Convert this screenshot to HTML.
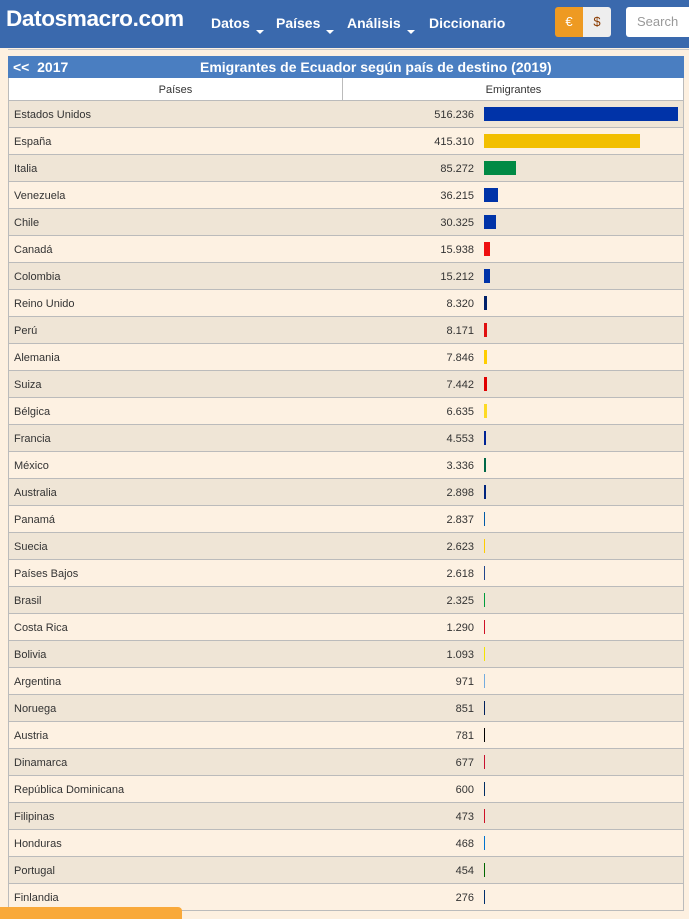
<!DOCTYPE html>
<html><head><meta charset="utf-8"><style>
*{margin:0;padding:0;box-sizing:border-box}
body{width:689px;height:916px;overflow:hidden;background:#fdf0e0;font-family:"Liberation Sans",Arial,sans-serif;position:relative}
.hdr{position:absolute;left:0;top:0;width:689px;height:48px;background:#3a69ad;color:#fff}
.logo{position:absolute;left:6px;top:6px;font-size:22.6px;font-weight:bold;letter-spacing:-0.4px}
.nav{position:absolute;top:15px;font-size:14px;font-weight:bold}
.car{display:inline-block;width:0;height:0;border-left:4px solid transparent;border-right:4px solid transparent;border-top:4px solid #fff;margin-left:6px;vertical-align:-6px}
.eur{position:absolute;left:555px;top:7px;width:28px;height:30px;background:#ee9a22;border-radius:3px 0 0 3px;color:#fff;font-size:13px;text-align:center;line-height:30px}
.usd{position:absolute;left:583px;top:7px;width:28px;height:30px;background:#eee;border-radius:0 3px 3px 0;color:#8a3b00;font-size:13px;text-align:center;line-height:30px}
.srch{position:absolute;left:626px;top:7px;width:70px;height:30px;background:#fff;border-radius:3px;color:#999;font-size:13px;line-height:30px;padding-left:11px}
.line{position:absolute;left:8px;top:49px;width:681px;height:1px;background:#c8c8c8}
.title{position:absolute;left:8px;top:56px;width:676px;height:22px;background:#4a7ec1;color:#fff;font-size:14px;font-weight:bold;line-height:22px}
.tbl{position:absolute;left:8px;top:78px;width:676px;border-left:1px solid #bbb;border-right:1px solid #bbb}
.hrow{height:23px;background:#fff;border-bottom:1px solid #bbb;font-size:11px;color:#333;position:relative}
.hrow div{position:absolute;top:0;line-height:24px;text-align:center}
.row{height:27px;border-bottom:1px solid #bbb;position:relative;font-size:11px;color:#333}
.row:nth-child(odd){background:#efe5d6}
.row:nth-child(even){background:#fdf1e2}
.n{position:absolute;left:5px;top:0;line-height:29px}
.v{position:absolute;right:209px;top:0;line-height:29px}
.b{position:absolute;left:475px;top:6px;height:14px}
.sep{position:absolute;left:333px;top:0;width:1px;height:23px;background:#bbb}
.or{position:absolute;left:0;top:907px;width:182px;height:12px;background:#f9a93a;border-radius:0 4px 0 0}
</style></head><body>
<div class="hdr">
<div class="logo">Datosmacro.com</div>
<div class="nav" style="left:211px">Datos<span class="car"></span></div>
<div class="nav" style="left:276px">Países<span class="car"></span></div>
<div class="nav" style="left:347px">Análisis<span class="car"></span></div>
<div class="nav" style="left:429px">Diccionario</div>
<div class="eur">€</div><div class="usd">$</div>
<div class="srch">Search</div>
</div>
<div class="line"></div>
<div class="title"><span style="position:absolute;left:5px">&lt;&lt;&nbsp; 2017</span><span style="position:absolute;left:192px">Emigrantes de Ecuador según país de destino (2019)</span></div>
<div class="tbl">
<div class="hrow"><div style="left:0;width:333px">Países</div><div class="sep"></div><div style="left:334px;width:341px">Emigrantes</div></div>
<div id="rows">
<div class="row"><span class="n">Estados Unidos</span><span class="v">516.236</span><span class="b" style="width:194px;background:#0033a8"></span></div>
<div class="row"><span class="n">España</span><span class="v">415.310</span><span class="b" style="width:156px;background:#f2bf00"></span></div>
<div class="row"><span class="n">Italia</span><span class="v">85.272</span><span class="b" style="width:32px;background:#008a45"></span></div>
<div class="row"><span class="n">Venezuela</span><span class="v">36.215</span><span class="b" style="width:14px;background:#0033a8"></span></div>
<div class="row"><span class="n">Chile</span><span class="v">30.325</span><span class="b" style="width:12px;background:#0033a8"></span></div>
<div class="row"><span class="n">Canadá</span><span class="v">15.938</span><span class="b" style="width:6px;background:#ee1111"></span></div>
<div class="row"><span class="n">Colombia</span><span class="v">15.212</span><span class="b" style="width:6px;background:#0033a8"></span></div>
<div class="row"><span class="n">Reino Unido</span><span class="v">8.320</span><span class="b" style="width:3px;background:#012169"></span></div>
<div class="row"><span class="n">Perú</span><span class="v">8.171</span><span class="b" style="width:3px;background:#e01010"></span></div>
<div class="row"><span class="n">Alemania</span><span class="v">7.846</span><span class="b" style="width:3px;background:#ffce00"></span></div>
<div class="row"><span class="n">Suiza</span><span class="v">7.442</span><span class="b" style="width:3px;background:#e00000"></span></div>
<div class="row"><span class="n">Bélgica</span><span class="v">6.635</span><span class="b" style="width:3px;background:#fdda24"></span></div>
<div class="row"><span class="n">Francia</span><span class="v">4.553</span><span class="b" style="width:2px;background:#002395"></span></div>
<div class="row"><span class="n">México</span><span class="v">3.336</span><span class="b" style="width:2px;background:#006847"></span></div>
<div class="row"><span class="n">Australia</span><span class="v">2.898</span><span class="b" style="width:2px;background:#00247d"></span></div>
<div class="row"><span class="n">Panamá</span><span class="v">2.837</span><span class="b" style="width:1px;background:#005aa7"></span></div>
<div class="row"><span class="n">Suecia</span><span class="v">2.623</span><span class="b" style="width:1px;background:#fecc00"></span></div>
<div class="row"><span class="n">Países Bajos</span><span class="v">2.618</span><span class="b" style="width:1px;background:#21468b"></span></div>
<div class="row"><span class="n">Brasil</span><span class="v">2.325</span><span class="b" style="width:1px;background:#009c3b"></span></div>
<div class="row"><span class="n">Costa Rica</span><span class="v">1.290</span><span class="b" style="width:1px;background:#ce1126"></span></div>
<div class="row"><span class="n">Bolivia</span><span class="v">1.093</span><span class="b" style="width:1px;background:#f4e400"></span></div>
<div class="row"><span class="n">Argentina</span><span class="v">971</span><span class="b" style="width:1px;background:#74acdf"></span></div>
<div class="row"><span class="n">Noruega</span><span class="v">851</span><span class="b" style="width:1px;background:#00205b"></span></div>
<div class="row"><span class="n">Austria</span><span class="v">781</span><span class="b" style="width:1px;background:#000"></span></div>
<div class="row"><span class="n">Dinamarca</span><span class="v">677</span><span class="b" style="width:1px;background:#c8102e"></span></div>
<div class="row"><span class="n">República Dominicana</span><span class="v">600</span><span class="b" style="width:1px;background:#002d62"></span></div>
<div class="row"><span class="n">Filipinas</span><span class="v">473</span><span class="b" style="width:1px;background:#ce1126"></span></div>
<div class="row"><span class="n">Honduras</span><span class="v">468</span><span class="b" style="width:1px;background:#0073cf"></span></div>
<div class="row"><span class="n">Portugal</span><span class="v">454</span><span class="b" style="width:1px;background:#006600"></span></div>
<div class="row"><span class="n">Finlandia</span><span class="v">276</span><span class="b" style="width:1px;background:#002f6c"></span></div>
</div>
</div>
<div class="or"></div>
</body></html>
